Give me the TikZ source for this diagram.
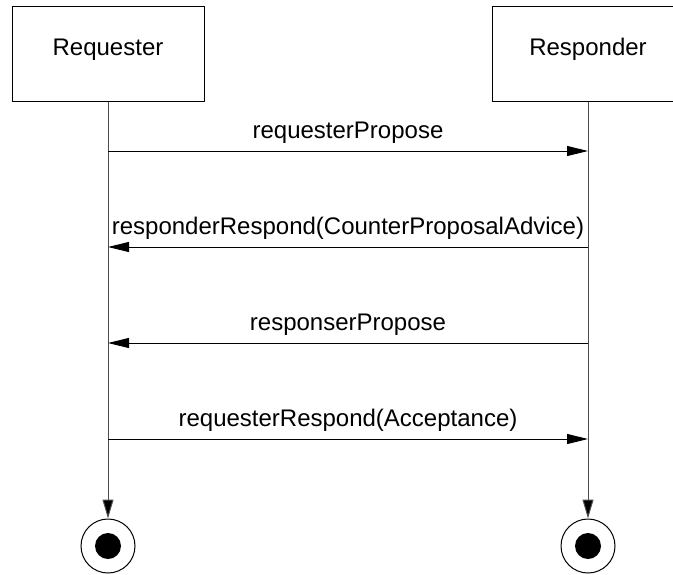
\documentclass[tikz,border=0pt]{standalone}
\usepackage{fontspec}
\setmainfont{Liberation Sans}
\usetikzlibrary{arrows.meta}
\begin{document}
\begin{tikzpicture}[x=1pt,y=-1pt,
  every node/.style={font=\fontsize{24}{28}\selectfont},
  actor/.style={draw=black, line width=1pt, minimum width=192pt, minimum height=95pt, inner sep=0pt, text height=12pt, text depth=9pt},
  lifeline/.style={draw=black!70, line width=1pt, -{Triangle[length=19pt,width=11pt,fill=black]}},
  msg/.style={draw=black, line width=1pt, -{Triangle[length=21pt,width=10pt,fill=black]}},
  lbl/.style={anchor=base, yshift=12.5pt, inner sep=0pt},
  endring/.style={circle, draw=black, line width=1pt, minimum size=54pt, inner sep=0pt},
  enddot/.style={circle, fill=black, minimum size=26pt, inner sep=0pt}]
\useasboundingbox (0,0) rectangle (673,574);
\clip (0,0) rectangle (673,574);
\node[actor] (req) at (108,53.5) {Requester};
\node[actor] (resp) at (588,53.5) {Responder};
\node[endring] (reqend) at (108,546) {};
\node[enddot] (reqdot) at (108,546) {};
\node[endring] (respend) at (588,546) {};
\node[enddot] (respdot) at (588,546) {};
\draw[lifeline] (req.south) -- (reqend.north);
\draw[lifeline] (resp.south) -- (respend.north);
\coordinate (a1) at (108,151); \coordinate (b1) at (588,151);
\coordinate (a2) at (108,247); \coordinate (b2) at (588,247);
\coordinate (a3) at (108,343); \coordinate (b3) at (588,343);
\coordinate (a4) at (108,439); \coordinate (b4) at (588,439);
\draw[msg] (a1) -- node[lbl] {requesterPropose} (b1);
\draw[msg] (b2) -- node[lbl] {responderRespond(CounterProposalAdvice)} (a2);
\draw[msg] (b3) -- node[lbl] {responserPropose} (a3);
\draw[msg] (a4) -- node[lbl] {requesterRespond(Acceptance)} (b4);
\end{tikzpicture}
\end{document}
